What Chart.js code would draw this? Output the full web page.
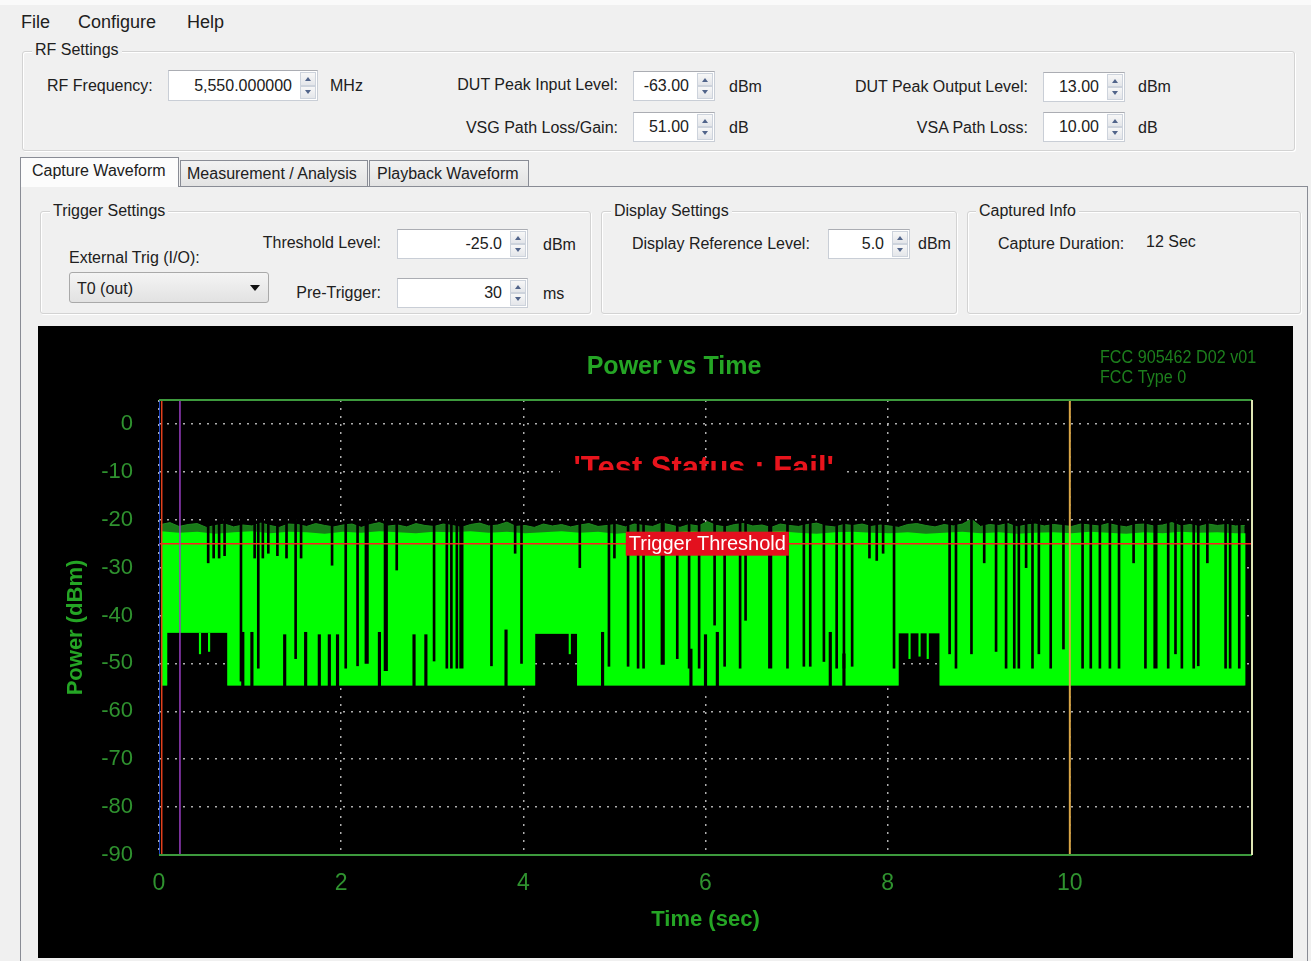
<!DOCTYPE html>
<html>
<head>
<meta charset="utf-8">
<title>Power vs Time</title>
<script src="https://cdn.jsdelivr.net/npm/chart.js@4.4.1/dist/chart.umd.min.js"></script>
<style>
  html, body { margin: 0; padding: 0; width: 1311px; height: 961px; overflow: hidden;
    background: #f0f0f0; font-family: "Liberation Sans", Arial, sans-serif; font-size: 16px; color: #202020; }
  .a { position: absolute; white-space: nowrap; line-height: 20px; }
  .rt { text-align: right; }
  .menu { font-size: 18px; line-height: 22px; }
  .grp { position: absolute; box-sizing: border-box; border: 1px solid #d3d3d3; border-radius: 3px;
    box-shadow: inset 1px 1px 0 #fff, 1px 1px 0 #fff; }
  .glbl { background: #f0f0f0; padding: 0 3px; }
  .box { position: absolute; box-sizing: border-box; background: #fff; border: 1px solid #c9ced6; border-top-color: #abadb3; }
  .box .v { position: absolute; top: 50%; transform: translateY(-50%); line-height: 20px; white-space: nowrap; }
  .spin { position: absolute; right: 1px; top: 1px; bottom: 1px; width: 16px; }
  .spin div { position: absolute; left: 0; right: 0; height: 50%; box-sizing: border-box;
    border: 1px solid #cdd3dc; background: linear-gradient(#f7f7f7, #e4e6ea); }
  .spin .u { top: 0; } .spin .d { bottom: 0; }
  .spin .u::after, .spin .d::after { content: ""; position: absolute; left: 4px; width: 0; height: 0;
    border-left: 3px solid transparent; border-right: 3px solid transparent; }
  .spin .u::after { top: 4px; border-bottom: 4px solid #51648a; }
  .spin .d::after { bottom: 4px; border-top: 4px solid #51648a; }
  .tab { position: absolute; box-sizing: border-box; border: 1px solid #898c95; border-bottom: none;
    background: linear-gradient(#f2f2f2, #e3e3e3); }
  .tab.sel { background: #fcfcfc; }
  .combo { position: absolute; box-sizing: border-box; border: 1px solid #a9a9a9; border-radius: 3px;
    background: linear-gradient(#f4f4f4, #e2e2e2); }
  .combo::after { content: ""; position: absolute; right: 8px; top: 12px; width: 0; height: 0;
    border-left: 5px solid transparent; border-right: 5px solid transparent; border-top: 6px solid #111; }
  #plotPanel { position: absolute; left: 38px; top: 326px; width: 1255px; height: 632px; background: #000; }
  #pvt { display: block; }
</style>
</head>
<body>
<!-- menu bar -->
<div style="position:absolute;left:0;top:0;width:1311px;height:5px;background:#fafafa"></div>
<div class="a menu" style="left:21px;top:11px">File</div>
<div class="a menu" style="left:78px;top:11px">Configure</div>
<div class="a menu" style="left:187px;top:11px">Help</div>

<!-- RF settings -->
<div class="grp" style="left:22px;top:51px;width:1273px;height:100px"></div>
<div class="a glbl" style="left:32px;top:40px">RF Settings</div>

<div class="a" style="left:47px;top:76px">RF Frequency:</div>
<div class="box" style="left:168px;top:70px;width:150px;height:31px"><span class="v" style="right:25px">5,550.000000</span><div class="spin"><div class="u"></div><div class="d"></div></div></div>
<div class="a" style="left:330px;top:76px">MHz</div>

<div class="a rt" style="right:693px;top:75px">DUT Peak Input Level:</div>
<div class="box" style="left:633px;top:71px;width:82px;height:30px"><span class="v" style="right:25px">-63.00</span><div class="spin"><div class="u"></div><div class="d"></div></div></div>
<div class="a" style="left:729px;top:77px">dBm</div>

<div class="a rt" style="right:693px;top:118px">VSG Path Loss/Gain:</div>
<div class="box" style="left:633px;top:112px;width:82px;height:30px"><span class="v" style="right:25px">51.00</span><div class="spin"><div class="u"></div><div class="d"></div></div></div>
<div class="a" style="left:729px;top:118px">dB</div>

<div class="a rt" style="right:283px;top:77px">DUT Peak Output Level:</div>
<div class="box" style="left:1043px;top:72px;width:82px;height:30px"><span class="v" style="right:25px">13.00</span><div class="spin"><div class="u"></div><div class="d"></div></div></div>
<div class="a" style="left:1138px;top:77px">dBm</div>

<div class="a rt" style="right:283px;top:118px">VSA Path Loss:</div>
<div class="box" style="left:1043px;top:112px;width:82px;height:30px"><span class="v" style="right:25px">10.00</span><div class="spin"><div class="u"></div><div class="d"></div></div></div>
<div class="a" style="left:1138px;top:118px">dB</div>

<!-- tab strip and page -->
<div style="position:absolute;left:20px;top:186px;width:1288px;height:780px;box-sizing:border-box;border:1px solid #898c95;background:#f0f0f0"></div>
<div class="tab" style="left:180px;top:160px;width:188px;height:26px"></div>
<div class="tab" style="left:369px;top:160px;width:160px;height:26px"></div>
<div class="tab sel" style="left:20px;top:157px;width:159px;height:30px"></div>
<div class="a" style="left:32px;top:161px">Capture Waveform</div>
<div class="a" style="left:187px;top:164px">Measurement / Analysis</div>
<div class="a" style="left:377px;top:164px">Playback Waveform</div>

<!-- trigger settings -->
<div class="grp" style="left:40px;top:211px;width:551px;height:103px"></div>
<div class="a glbl" style="left:50px;top:201px">Trigger Settings</div>
<div class="a rt" style="right:930px;top:233px">Threshold Level:</div>
<div class="box" style="left:397px;top:229px;width:131px;height:30px"><span class="v" style="right:25px">-25.0</span><div class="spin"><div class="u"></div><div class="d"></div></div></div>
<div class="a" style="left:543px;top:235px">dBm</div>
<div class="a" style="left:69px;top:248px">External Trig (I/O):</div>
<div class="combo" style="left:69px;top:272px;width:200px;height:31px"></div>
<div class="a" style="left:77px;top:279px">T0 (out)</div>
<div class="a rt" style="right:930px;top:283px">Pre-Trigger:</div>
<div class="box" style="left:397px;top:278px;width:131px;height:30px"><span class="v" style="right:25px">30</span><div class="spin"><div class="u"></div><div class="d"></div></div></div>
<div class="a" style="left:543px;top:284px">ms</div>

<!-- display settings -->
<div class="grp" style="left:601px;top:211px;width:356px;height:103px"></div>
<div class="a glbl" style="left:611px;top:201px">Display Settings</div>
<div class="a" style="left:632px;top:234px">Display Reference Level:</div>
<div class="box" style="left:828px;top:229px;width:82px;height:30px"><span class="v" style="right:25px">5.0</span><div class="spin"><div class="u"></div><div class="d"></div></div></div>
<div class="a" style="left:918px;top:234px">dBm</div>

<!-- captured info -->
<div class="grp" style="left:967px;top:211px;width:334px;height:103px"></div>
<div class="a glbl" style="left:976px;top:201px">Captured Info</div>
<div class="a" style="left:998px;top:234px">Capture Duration:</div>
<div class="a" style="left:1146px;top:232px">12 Sec</div>

<!-- power vs time plot -->
<div id="plotPanel"><canvas id="pvt" width="1255" height="632"></canvas></div>

<script>
// ---------- axis ranges and ticks ----------
const timeMin = 0, timeMax = 12;          // sec
const powerMin = -90, powerMax = 5;       // dBm (display reference level 5.0)
const xTickValues = [0, 2, 4, 6, 8, 10];
const yTickValues = [0, -10, -20, -30, -40, -50, -60, -70, -80, -90];

// ---------- captured burst envelope ----------
const dataStart = 0.02, dataEnd = 11.93;   // sec covered by the capture trace

// peak hair of the bursts, one value every 0.1 s
const peakStep = 0.1;
const peakLevels = [
  -21.0, -20.6, -21.4, -21.0, -20.8, -21.6, -21.2, -20.9, -21.5, -21.1,
  -21.3, -20.7, -21.2, -21.6, -20.9, -21.0, -21.4, -20.8, -21.2, -21.5,
  -21.1, -20.9, -21.6, -21.0, -20.6, -21.3, -21.1, -21.5, -20.8, -21.2,
  -21.4, -20.9, -21.2, -21.6, -21.0, -20.7, -21.3, -21.1, -20.5, -21.4,
  -21.2, -21.6, -20.9, -21.3, -21.0, -21.5, -21.1, -20.8, -21.4, -21.2,
  -21.0, -21.5, -20.9, -21.2, -21.4, -20.7, -21.1, -21.6, -21.0, -21.3,
  -20.4, -21.2, -21.5, -21.0, -20.8, -21.3, -21.1, -21.6, -20.9, -21.2,
  -21.4, -21.0, -20.7, -21.3, -21.5, -21.0, -21.2, -20.9, -21.4, -21.1,
  -21.3, -21.6, -21.0, -20.8, -21.2, -21.5, -21.0, -21.3, -20.9, -19.9,
  -21.4, -21.0, -21.2, -20.8, -21.5, -21.1, -20.9, -21.3, -21.0, -21.2,
  -21.4, -20.9, -21.1, -21.3, -20.8, -21.2, -21.5, -21.0, -20.9, -21.3,
  -21.1, -20.6, -21.3, -21.0, -21.4, -20.9, -21.2, -21.0, -21.3, -21.2
];

// solid top of the bursts, one value every 0.2 s
const topStep = 0.2;
const topLevels = [
  -22.4, -22.7, -22.5, -22.9, -22.6, -22.4, -22.8, -22.5, -22.6, -22.9,
  -22.5, -22.7, -22.4, -22.6, -22.8, -22.5, -22.6, -22.4, -22.7, -22.5,
  -22.8, -22.6, -22.4, -22.7, -22.5, -22.9, -22.6, -22.5, -22.7, -22.4,
  -22.6, -22.8, -22.5, -22.6, -22.4, -22.7, -22.9, -22.6, -22.5, -22.7,
  -22.8, -22.6, -22.9, -22.7, -22.5, -22.8, -22.6, -22.9, -22.7, -22.6,
  -22.8, -22.5, -22.7, -22.9, -22.6, -22.8, -22.5, -22.7, -22.6, -22.8
];

// noise floor and the quieter stretches where it sits higher
const floorLevel = -54.6;
const raisedStart = [0.09, 4.13, 8.12];
const raisedEnd   = [0.75, 4.59, 8.57];
const raisedLevel = [-43.6, -43.8, -43.7];

// gaps between bursts: time (s) and the level the gap reaches down to (dBm)
const gapTimes = [
  0.54, 0.60, 0.66, 0.72, 0.90, 1.05, 1.09, 1.14, 1.20, 1.30, 1.40, 1.50, 1.56, 1.90,
  2.05, 2.18, 2.61, 3.02, 3.16, 3.21, 3.27, 3.65, 3.91, 3.98, 4.62, 4.94, 5.00, 5.15,
  5.26, 5.32, 5.69, 5.82, 5.93, 6.10, 6.21, 6.38, 6.44, 6.90, 7.08, 7.15, 7.30, 7.44,
  7.52, 7.61, 7.80, 7.88, 7.95, 8.07, 8.68, 8.75, 8.92, 9.06, 9.19, 9.30, 9.39, 9.44,
  9.52, 9.59, 9.66, 9.79, 9.93, 10.14, 10.23, 10.33, 10.44, 10.54, 10.70, 10.83, 11.08,
  11.16, 11.23, 11.36, 11.41, 11.51, 11.71, 11.76, 11.86
];
const gapLevels = [
  -29.0, -28.0, -28.0, -27.5, -53.7, -28.0, -51.0, -28.0, -27.0, -27.5, -28.0, -49.0, -28.0, -29.5,
  -51.0, -50.5, -30.5, -49.5, -51.0, -51.0, -51.0, -50.5, -27.0, -50.0, -30.0, -50.6, -28.0, -50.6,
  -51.0, -51.0, -49.0, -51.0, -51.0, -42.0, -50.6, -51.0, -41.0, -51.0, -50.6, -50.6, -49.6, -51.0,
  -51.0, -50.6, -28.0, -28.5, -27.0, -51.0, -48.0, -51.0, -48.0, -29.0, -47.5, -51.0, -51.0, -51.0,
  -30.0, -51.0, -48.0, -51.0, -47.0, -51.0, -51.0, -51.0, -51.0, -51.0, -29.0, -51.0, -51.0,
  -48.0, -51.0, -51.0, -50.5, -29.0, -51.0, -51.0, -51.0
];
// longer gaps
const longGapTimes  = [2.28, 2.49, 3.32, 5.53, 6.71, 10.94];
const longGapLevels = [-50.0, -51.5, -51.0, -50.2, -51.0, -51.0];

// short quiet spells in the floor: time (s) and how high the quiet part reaches (dBm)
const floorGapTimes  = [0.92, 1.02, 1.38, 1.61, 1.76, 1.87, 1.96, 2.42, 2.80, 2.93, 3.81, 4.87, 5.84, 6.00, 6.13, 7.37, 7.52];
const floorGapLevels = [-43.5, -43.5, -44.0, -43.5, -44.0, -44.0, -44.0, -43.5, -44.0, -44.0, -43.0, -43.5, -47.0, -44.0, -43.5, -43.5, -48.0];

// bursts reaching below the raised floor: time (s) and lowest level (dBm)
const dropTimes  = [0.45, 0.55, 4.51, 8.24, 8.35, 8.44];
const dropLevels = [-48.0, -47.5, -48.0, -49.0, -48.5, -49.0];

// trigger threshold and time markers
const thresholdLevel = -25;
const markerTimes = [0, 0.03, 0.23, 10.0];

// ---------- styling ----------
const markerColors = ['#2b5cff', '#e2401c', '#9b3fc4', '#d9a546'];
const tickGreen = '#2f922f';
const titleGreen = '#25a525';
const noteGreen = '#1d7f1d';
const sans = '"Liberation Sans", Arial, sans-serif';

// ---------- build the series the chart needs ----------
const pt = (x, y) => ({ x, y });
const floorPts = [pt(dataStart, floorLevel)];
raisedStart.forEach((s, i) => {
  floorPts.push(pt(s, floorLevel), pt(s, raisedLevel[i]), pt(raisedEnd[i], raisedLevel[i]), pt(raisedEnd[i], floorLevel));
});
floorPts.push(pt(dataEnd, floorLevel));

const peakPts = peakLevels.map((v, i) => pt(+(dataStart + i * peakStep).toFixed(3), v));
const topPts = topLevels.map((v, i) => pt(+(dataStart + i * topStep).toFixed(3), v));
topPts.push(pt(dataEnd, topLevels[topLevels.length - 1]));

const gapTop = -19;                  // gaps cut through the whole burst top
const raisedTop = -43.7;
const bars = (times, lo, hi) => times.map((t, i) => ({ x: t, y: [lo(i), hi(i)] }));
const vline = t => [pt(t, powerMin), pt(t, powerMax)];

const lineBase = { pointRadius: 0, tension: 0, borderWidth: 0 };
const barBase = { type: 'bar', backgroundColor: '#000', borderWidth: 0, grouped: false };

const datasets = [
  Object.assign({ label: 'floor', data: floorPts, borderColor: 'rgba(0,0,0,0)', fill: false, order: 9 }, lineBase),
  Object.assign({}, lineBase, { label: 'peak', data: peakPts, borderWidth: 1, borderColor: '#1f8a1f', backgroundColor: '#197a19', fill: 0, order: 8 }),
  Object.assign({}, lineBase, { label: 'power', data: topPts, borderColor: 'rgba(0,0,0,0)', backgroundColor: '#00ff00', fill: 0, order: 7 }),
  Object.assign({}, barBase, { label: 'gaps', data: bars(gapTimes, i => gapLevels[i], () => gapTop), barThickness: 2, order: 5 }),
  Object.assign({}, barBase, { label: 'long gaps', data: bars(longGapTimes, i => longGapLevels[i], () => gapTop), barThickness: 3.5, order: 5 }),
  Object.assign({}, barBase, { label: 'floor gaps', data: bars(floorGapTimes, () => floorLevel - 1.5, i => floorGapLevels[i]), barThickness: 2.5, order: 5 }),
  Object.assign({}, barBase, { label: 'drops', data: bars(dropTimes, i => dropLevels[i], () => raisedTop), backgroundColor: '#00ff00', barThickness: 1.5, order: 4 }),
  Object.assign({}, lineBase, { label: 'threshold', data: [pt(timeMin, thresholdLevel), pt(timeMax, thresholdLevel)], borderColor: '#ff1f1f', borderWidth: 1.5, fill: false, order: 2 })
];
markerTimes.forEach((t, i) => {
  datasets.push(Object.assign({}, lineBase, { label: 'marker ' + i, data: vline(t), borderColor: markerColors[i], borderWidth: i === 3 ? 2 : 1.5, fill: false, order: 1 }));
});

// ---------- text and frame drawn around the plot ----------
function narrowText(ctx, text, x, y, squeeze) {
  ctx.save();
  ctx.translate(x, y);
  ctx.scale(squeeze, 1);
  ctx.fillText(text, 0, 0);
  ctx.restore();
}

const decorations = {
  id: 'decorations',
  beforeDatasetsDraw(chart) {
    const { ctx, scales: { x, y } } = chart;
    ctx.save();
    ctx.font = 'bold 31px ' + sans;
    ctx.fillStyle = '#e8141c';
    ctx.textAlign = 'center';
    ctx.textBaseline = 'alphabetic';
    ctx.fillText("'Test Status : Fail'", x.getPixelForValue(5.98), y.getPixelForValue(-11.25));
    // status banner backing sits over the lower half of the text
    const l = x.getPixelForValue(4.40), r = x.getPixelForValue(7.53);
    const t = y.getPixelForValue(-9.7), b = y.getPixelForValue(-19.2);
    ctx.fillStyle = '#000';
    ctx.fillRect(l, t, r - l, b - t);
    ctx.restore();
  },
  afterDatasetsDraw(chart) {
    const { ctx, chartArea: a, scales: { x, y } } = chart;
    ctx.save();
    // plot frame
    ctx.lineWidth = 2;
    ctx.strokeStyle = '#3d9a3d';
    ctx.beginPath();
    ctx.moveTo(a.left, a.top); ctx.lineTo(a.right, a.top);
    ctx.moveTo(a.left, a.bottom); ctx.lineTo(a.right, a.bottom);
    ctx.stroke();
    ctx.strokeStyle = '#dfe6b4';
    ctx.beginPath();
    ctx.moveTo(a.right, a.top); ctx.lineTo(a.right, a.bottom);
    ctx.stroke();
    // threshold tag
    ctx.font = '20px ' + sans;
    const label = 'Trigger Threshold';
    const w = ctx.measureText(label).width + 6;
    const cx = x.getPixelForValue(6.02), cy = y.getPixelForValue(thresholdLevel);
    ctx.fillStyle = '#e3101e';
    ctx.fillRect(cx - w / 2, cy - 12, w, 24);
    ctx.fillStyle = '#ffffff';
    ctx.textAlign = 'center';
    ctx.textBaseline = 'middle';
    ctx.fillText(label, cx, cy + 1);
    ctx.restore();
  },
  afterDraw(chart) {
    const { ctx } = chart;
    ctx.save();
    ctx.textBaseline = 'middle';
    ctx.textAlign = 'center';
    ctx.font = 'bold 25px ' + sans;
    ctx.fillStyle = titleGreen;
    ctx.fillText('Power vs Time', 636, 41);
    ctx.textAlign = 'left';
    ctx.font = '19px ' + sans;
    ctx.fillStyle = noteGreen;
    narrowText(ctx, 'FCC 905462 D02 v01', 1062, 32, 0.85);
    narrowText(ctx, 'FCC Type 0', 1062, 52, 0.85);
    ctx.restore();
  }
};

const gridStyle = { color: 'rgba(205,205,205,0.85)', lineWidth: 1.5, drawTicks: false, offset: false };
const borderStyle = { display: false, dash: [2, 6] };

new Chart(document.getElementById('pvt').getContext('2d'), {
  type: 'line',
  data: { datasets },
  options: {
    responsive: false,
    animation: false,
    devicePixelRatio: 1,
    events: [],
    normalized: true,
    layout: { padding: { top: 74, right: 41, left: 0, bottom: 0 } },
    plugins: { legend: { display: false }, tooltip: { enabled: false }, title: { display: false } },
    scales: {
      x: {
        type: 'linear', min: timeMin, max: timeMax, offset: false,
        afterBuildTicks: s => { s.ticks = xTickValues.map(v => ({ value: v })); },
        afterFit: s => { s.height = 103; },
        grid: gridStyle, border: borderStyle,
        ticks: { color: tickGreen, font: { family: sans, size: 23 }, padding: 15, maxRotation: 0 },
        title: { display: true, text: 'Time (sec)', color: titleGreen, font: { family: sans, size: 22, weight: 'bold' }, padding: { top: 0, bottom: 25 } }
      },
      y: {
        type: 'linear', min: powerMin, max: powerMax, offset: false,
        afterBuildTicks: s => { s.ticks = yTickValues.map(v => ({ value: v })); },
        afterFit: s => { s.width = 121; },
        grid: gridStyle, border: borderStyle,
        ticks: { color: tickGreen, font: { family: sans, size: 22 }, padding: 26 },
        title: { display: true, text: 'Power (dBm)', color: titleGreen, font: { family: sans, size: 22, weight: 'bold' }, padding: { top: 25, bottom: 0 } }
      }
    }
  },
  plugins: [decorations]
});
</script>
</body>
</html>
